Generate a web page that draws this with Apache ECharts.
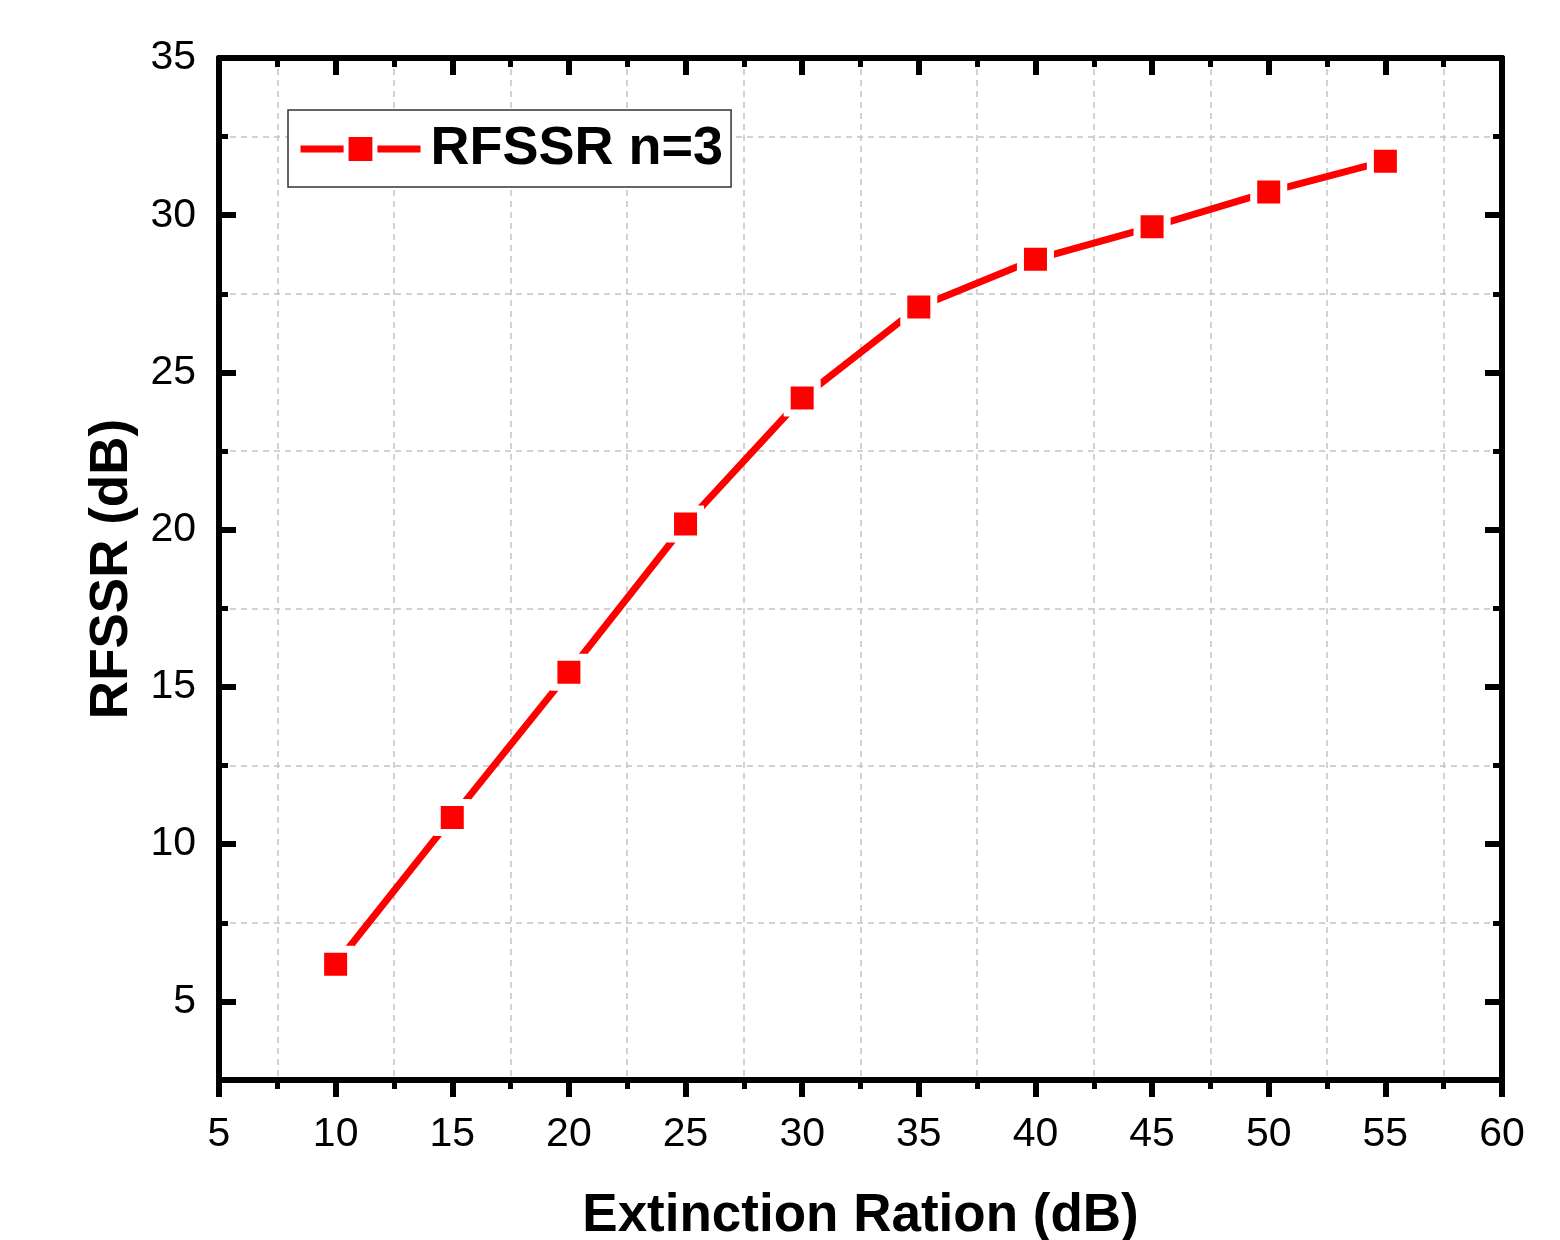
<!DOCTYPE html>
<html><head><meta charset="utf-8">
<script src="https://cdn.jsdelivr.net/npm/echarts@6/dist/echarts.min.js"></script>
<style>html,body{margin:0;padding:0;background:#fff}#c{width:1560px;height:1240px}</style>
</head><body><div id="c"></div>
<script>
const extinctionRatio = [10, 15, 20, 25, 30, 35, 40, 45, 50, 55];
const rfssr = [6.18, 10.85, 15.47, 20.18, 24.19, 27.08, 28.6, 29.63, 30.74, 31.72];
const seriesName = 'RFSSR n=3';
const xTitle = 'Extinction Ration (dB)';
const yTitle = 'RFSSR (dB)';
const xRange = [5, 60];
const yRange = [2.5, 35];

const FONT = '"Liberation Sans", Arial, sans-serif';
const BLACK = '#000';
const axisLine = { show: true, lineStyle: { color: BLACK, width: 6 } };
const gridDash = { color: '#c4c4c4', type: [6, 5], width: 1.5 };

const chart = echarts.init(document.getElementById('c'), null, { renderer: 'canvas' });
chart.setOption({
  animation: false,
  backgroundColor: '#fff',
  grid: { left: 219, right: 58, top: 58, bottom: 160, containLabel: false, outerBoundsMode: 'none' },
  legend: {
    left: 288, top: 110,
    padding: [12, 8, 11, 9],
    borderColor: '#333', borderWidth: 1.5, backgroundColor: '#fff',
    itemWidth: 120, itemHeight: 36,
    itemStyle: { borderColor: '#fff', borderWidth: 5 },
    lineStyle: { width: 7, color: '#ff0000' },
    textStyle: { fontSize: 54, fontWeight: 'bold', fontFamily: FONT, color: BLACK, lineHeight: 36, padding: [0, 0, 0, 5] },
    data: [seriesName]
  },
  xAxis: [
    {
      type: 'value', position: 'bottom', min: xRange[0], max: xRange[1], interval: 5,
      axisLine: axisLine,
      axisTick: { show: true, inside: false, length: 17, lineStyle: { color: BLACK, width: 6 } },
      minorTick: { show: true, splitNumber: 2, length: 9, lineStyle: { color: BLACK, width: 5 } },
      axisLabel: { fontSize: 41, margin: 34, color: BLACK, fontFamily: FONT },
      splitLine: { show: false },
      minorSplitLine: { show: true, lineStyle: gridDash },
      name: xTitle, nameLocation: 'middle', nameGap: 110,
      nameTextStyle: { fontSize: 53, fontWeight: 'bold', color: BLACK, fontFamily: FONT }
    },
    {
      type: 'value', position: 'top', min: xRange[0], max: xRange[1], interval: 5,
      axisLine: axisLine,
      axisTick: { show: true, inside: true, length: 17, lineStyle: { color: BLACK, width: 6 } },
      minorTick: { show: true, splitNumber: 2, length: 9, lineStyle: { color: BLACK, width: 5 } },
      axisLabel: { show: false },
      splitLine: { show: false },
      minorSplitLine: { show: false }
    }
  ],
  yAxis: [
    {
      type: 'value', position: 'left', min: yRange[0], max: yRange[1], splitNumber: 7,
      axisLine: axisLine,
      axisTick: { show: true, inside: true, length: 17, lineStyle: { color: BLACK, width: 6 } },
      axisLabel: { fontSize: 41, margin: 23, color: BLACK, fontFamily: FONT,
        formatter: v => (Math.abs(v % 5) < 1e-9 ? String(v) : '') },
      splitLine: { show: false },
      name: yTitle, nameLocation: 'middle', nameGap: 80, nameRotate: 90,
      nameTextStyle: { fontSize: 53, fontWeight: 'bold', color: BLACK, fontFamily: FONT }
    },
    {
      type: 'value', position: 'left', min: yRange[0], max: yRange[1], interval: 5,
      axisLine: { show: false },
      axisTick: { show: true, inside: true, length: 9, lineStyle: { color: BLACK, width: 5 } },
      axisLabel: { show: false },
      splitLine: { show: true, lineStyle: gridDash }
    },
    {
      type: 'value', position: 'right', min: yRange[0], max: yRange[1], splitNumber: 7,
      axisLine: axisLine,
      axisTick: { show: true, inside: true, length: 17, lineStyle: { color: BLACK, width: 6 } },
      axisLabel: { show: false },
      splitLine: { show: false }
    },
    {
      type: 'value', position: 'right', min: yRange[0], max: yRange[1], interval: 5,
      axisLine: { show: false },
      axisTick: { show: true, inside: true, length: 9, lineStyle: { color: BLACK, width: 5 } },
      axisLabel: { show: false },
      splitLine: { show: false }
    }
  ],
  series: [{
    name: seriesName,
    type: 'line',
    xAxisIndex: 0, yAxisIndex: 0,
    data: extinctionRatio.map((x, i) => [x, rfssr[i]]),
    symbol: 'rect', symbolSize: 30,
    lineStyle: { color: '#ff0000', width: 7 },
    itemStyle: { color: '#ff0000', borderColor: '#fff', borderWidth: 7 },
    z: 5
  }]
});
</script></body></html>
